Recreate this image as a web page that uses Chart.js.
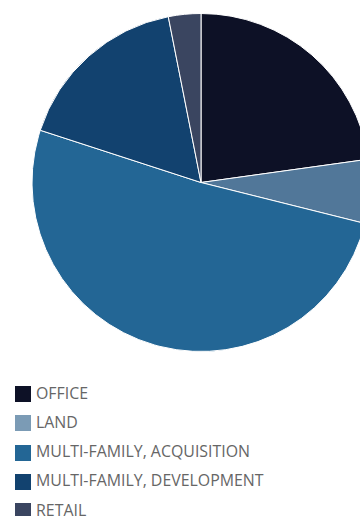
<!DOCTYPE html>
<html>
<head>
<meta charset="utf-8">
<script src="https://cdn.jsdelivr.net/npm/chart.js@4"></script>
<style>
    html, body { margin: 0; padding: 0; background: #fff; }
    body { width: 360px; height: 516px; overflow: hidden; position: relative; font-family: 'Open Sans', sans-serif; }
    #pieWrap { position: absolute; left: 0; top: 0; width: 402px; height: 352px; }
    #legend { position: absolute; left: 15px; top: 386px; margin: 0; padding: 0; list-style: none; }
    #legend li { display: flex; align-items: center; height: 16px; line-height: 16px; margin-bottom: 13.3px; color: #666; font-size: 15.9px; white-space: nowrap; }
    #legend li span.box { width: 16px; height: 16px; margin-right: 5px; flex: none; }
    #legend li span.txt { position: relative; top: -1.5px; }
</style>
</head>
<body>
<div id="pieWrap"><canvas id="pie"></canvas></div>
<ul id="legend"></ul>
<script>
    const categories = ['OFFICE', 'LAND', 'MULTI-FAMILY, ACQUISITION', 'MULTI-FAMILY, DEVELOPMENT', 'RETAIL'];
    const shares = [22.8, 6.1, 51.1, 16.9, 3.1];
    const sliceColors = ['#0d1126', '#517799', '#236695', '#12426f', '#3a4560'];
    const legendColors = ['#0d1126', '#7b9bb5', '#236695', '#12426f', '#3a4560'];

    const ctx = document.getElementById('pie').getContext('2d');
    new Chart(ctx, {
        type: 'pie',
        data: {
            labels: categories,
            datasets: [{
                data: shares,
                backgroundColor: sliceColors,
                borderColor: '#ffffff',
                borderWidth: 1
            }]
        },
        options: {
            responsive: true,
            maintainAspectRatio: false,
            animation: false,
            layout: { padding: { top: 13 } },
            plugins: {
                legend: { display: false },
                tooltip: { enabled: false }
            }
        }
    });

    // legend as a plain list, one row per category
    const legendEl = document.getElementById('legend');
    categories.forEach((name, i) => {
        const li = document.createElement('li');
        const box = document.createElement('span');
        box.className = 'box';
        box.style.background = legendColors[i];
        const txt = document.createElement('span');
        txt.className = 'txt';
        txt.textContent = name;
        li.appendChild(box);
        li.appendChild(txt);
        legendEl.appendChild(li);
    });
</script>
</body>
</html>
